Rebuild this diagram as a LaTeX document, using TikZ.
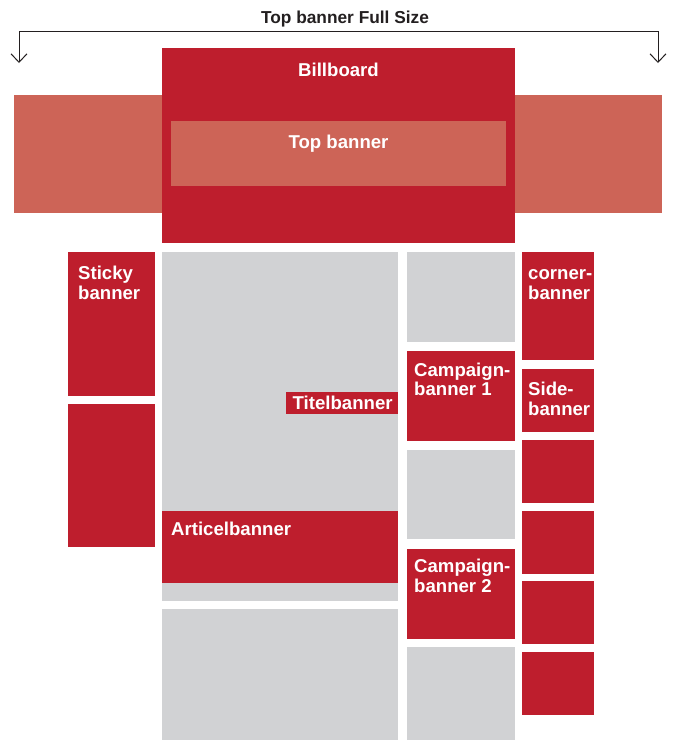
\documentclass[tikz,border=0pt]{standalone}
\usepackage{fontspec}
\setmainfont{Liberation Sans}
\usetikzlibrary{arrows.meta}
\definecolor{dred}{HTML}{BE1E2D}
\definecolor{lred}{HTML}{CD6457}
\definecolor{lgray}{HTML}{D1D2D4}
\definecolor{ink}{HTML}{231F20}
\newcommand\mybox[6]{\node[#1, minimum width={(#5-#3)*1pt}, minimum height={(#6-#4)*1pt}] (#2) at (#3,#4) {};}
\tikzset{
  box/.style={rectangle, anchor=north west, inner sep=0pt, outer sep=0pt, draw=none},
  redbox/.style={box, fill=dred},
  pinkbox/.style={box, fill=lred},
  graybox/.style={box, fill=lgray},
  lbl/.style={text=white, font=\bfseries\fontsize{18.6}{19.5}\selectfont, inner sep=0pt, align=left, anchor=base west},
  bracket/.style={draw=ink, line width=1pt, {Straight Barb[length=8.5pt,width=16pt]}-{Straight Barb[length=8.5pt,width=16pt]}}
}
\begin{document}
\begin{tikzpicture}[x=1pt,y=-1pt]
\fill[white] (0,0) rectangle (673,740);
\useasboundingbox (0,0) rectangle (673,740);
% heading
\node[font=\bfseries\fontsize{17.3}{18}\selectfont, text=ink, inner sep=0pt, anchor=base] (title) at (345,23) {Top banner Full Size};
\coordinate (tl) at (19,63);
\coordinate (bl) at (19,31);
\coordinate (br) at (658,31);
\coordinate (tr) at (658,63);
\draw[bracket] (tl) -- (bl) -- (br) -- (tr);
% top area
\mybox{pinkbox}{band}{14}{95}{662}{213}
\mybox{redbox}{billboard}{162}{48}{515}{243}
\mybox{pinkbox}{topbanner}{171}{121}{506}{186}
% left column
\mybox{redbox}{sticky1}{68}{252}{155}{396}
\mybox{redbox}{sticky2}{68}{404}{155}{547}
% main column
\mybox{graybox}{main}{162}{252}{398}{601}
\mybox{redbox}{titel}{286}{392}{398}{414}
\mybox{redbox}{articel}{162}{511}{398}{583}
\mybox{graybox}{mainlow}{162}{609}{398}{740}
% second column
\mybox{graybox}{g1}{407}{252}{515}{342}
\mybox{redbox}{camp1}{407}{351}{515}{441}
\mybox{graybox}{g2}{407}{450}{515}{539}
\mybox{redbox}{camp2}{407}{549}{515}{639}
\mybox{graybox}{g3}{407}{647}{515}{740}
% right column
\mybox{redbox}{corner}{522}{252}{594}{360}
\mybox{redbox}{side}{522}{369}{594}{432}
\mybox{redbox}{r3}{522}{440}{594}{503}
\mybox{redbox}{r4}{522}{511}{594}{574}
\mybox{redbox}{r5}{522}{581}{594}{644}
\mybox{redbox}{r6}{522}{652}{594}{715}
% labels (base anchor = baseline of the last line)
\node[lbl, anchor=base] (tBill) at (338.5,76) {Billboard};
\node[lbl, anchor=base] (tTop) at (338.5,148) {Top banner};
\node[lbl] (tSticky) at (78,299) {Sticky\\banner};
\node[lbl] (tTitel) at (292.5,409.3) {Titelbanner};
\node[lbl] (tArticel) at (171,535) {Articelbanner};
\node[lbl] (tCamp1) at (414,395.7) {Campaign-\\banner 1};
\node[lbl] (tCorner) at (528,299) {corner-\\banner};
\node[lbl] (tSide) at (528,415) {Side-\\banner};
\node[lbl] (tCamp2) at (414,592) {Campaign-\\banner 2};
\end{tikzpicture}
\end{document}
